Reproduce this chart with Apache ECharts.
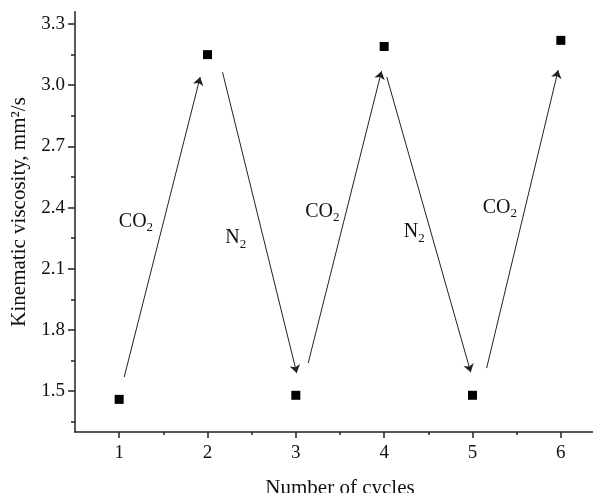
<!DOCTYPE html>
<html>
<head>
<meta charset="utf-8">
<script src="https://cdn.jsdelivr.net/npm/echarts@6/dist/echarts.min.js"></script>
<style>html,body{margin:0;padding:0;background:#fff;overflow:hidden}#c{width:605px;height:493px}</style>
</head>
<body>
<div id="c"></div>
<script>
// ---- data ----
const cycles = [1, 2, 3, 4, 5, 6];
const viscosity = [1.46, 3.15, 1.48, 3.19, 1.48, 3.22];
const yTicks = [1.5, 1.8, 2.1, 2.4, 2.7, 3.0, 3.3];
const yMinorTicks = [1.35, 1.65, 1.95, 2.25, 2.55, 2.85, 3.15];
const xTicks = [1, 2, 3, 4, 5, 6];
const xMinorTicks = [1.5, 2.5, 3.5, 4.5, 5.5, 6.5];
// arrows: start and end points in data units
const arrowStarts = [[1.057, 1.569], [2.17, 3.064], [3.14, 1.638], [4.03, 3.04], [5.16, 1.613]];
const arrowEnds   = [[1.917, 3.04], [3.01, 1.589], [3.97, 3.069], [4.98, 1.593], [5.97, 3.074]];
// annotation labels
const gasLabels = ['CO', 'N', 'CO', 'N', 'CO'];
const gasLabelX = [1.19, 2.32, 3.30, 4.34, 5.31];
const gasLabelY = [2.33, 2.25, 2.38, 2.28, 2.40];

const FONT = '"Liberation Serif", "DejaVu Serif", serif';
const TXT = '#111';

const chart = echarts.init(document.getElementById('c'), null, {renderer: 'canvas'});

const axisLineStyle = {color: '#222', width: 1.5};

chart.setOption({
  animation: false,
  backgroundColor: '#fff',
  grid: {left: 75, top: 11.8, bottom: 61, right: 0, containLabel: false, outerBoundsMode: 'none'},
  xAxis: [{
    type: 'value', min: 0.5, max: 6.5,
    splitLine: {show: false},
    axisLine: {show: true, onZero: false, lineStyle: axisLineStyle},
    axisTick: {show: true, inside: false, length: 6, customValues: xTicks, lineStyle: {color: '#222', width: 1.5}},
    axisLabel: {customValues: xTicks, margin: 12, fontFamily: FONT, fontSize: 19, color: TXT},
    name: 'Number of cycles', nameLocation: 'middle', nameGap: 46,
    nameTextStyle: {fontFamily: FONT, fontSize: 21, color: TXT}
  }, {
    type: 'value', min: 0.5, max: 6.5, position: 'bottom',
    splitLine: {show: false},
    axisLine: {show: false, onZero: false},
    axisTick: {show: true, length: 3, customValues: xMinorTicks, lineStyle: {color: '#222', width: 1.5}},
    axisLabel: {show: false}
  }],
  yAxis: [{
    type: 'value', min: 1.3, max: 3.36,
    splitLine: {show: false},
    axisLine: {show: true, onZero: false, lineStyle: axisLineStyle},
    axisTick: {show: true, length: 7, customValues: yTicks, lineStyle: {color: '#222', width: 1.5}},
    axisLabel: {customValues: yTicks, margin: 10, fontFamily: FONT, fontSize: 19, color: TXT,
      formatter: v => v.toFixed(1)},
    name: 'Kinematic viscosity, mm²/s', nameLocation: 'middle', nameGap: 44,
    nameTextStyle: {fontFamily: FONT, fontSize: 21, color: TXT, padding: [0, 0, 0, 20]}
  }, {
    type: 'value', min: 1.3, max: 3.36, position: 'left',
    splitLine: {show: false},
    axisLine: {show: false, onZero: false},
    axisTick: {show: true, length: 4, customValues: yMinorTicks, lineStyle: {color: '#222', width: 1.5}},
    axisLabel: {show: false}
  }],
  series: [{
    type: 'lines',
    coordinateSystem: 'cartesian2d',
    xAxisIndex: 0, yAxisIndex: 0,
    symbol: ['none', 'arrow'],
    symbolSize: 8,
    lineStyle: {color: '#222', width: 1, opacity: 1},
    data: arrowStarts.map((s, i) => ({coords: [s, arrowEnds[i]]})),
    silent: true
  }, {
    type: 'scatter',
    xAxisIndex: 0, yAxisIndex: 0,
    symbol: 'rect', symbolSize: 9,
    itemStyle: {color: '#000', opacity: 1},
    data: cycles.map((c, i) => [c, viscosity[i]])
  }, {
    type: 'scatter',
    xAxisIndex: 0, yAxisIndex: 0,
    symbolSize: 0,
    silent: true,
    itemStyle: {color: '#111', opacity: 1},
    label: {
      show: true, position: 'inside', color: TXT, textBorderWidth: 0, opacity: 1,
      formatter: p => '{a|' + p.data[2] + '}{b|2}',
      rich: {
        a: {fontFamily: FONT, fontSize: 20, color: TXT, textBorderWidth: 0, verticalAlign: 'middle'},
        b: {fontFamily: FONT, fontSize: 13, color: TXT, textBorderWidth: 0, padding: [12, 0, 0, 0], verticalAlign: 'bottom'}
      }
    },
    data: gasLabels.map((t, i) => [gasLabelX[i], gasLabelY[i], t])
  }]
});
</script>
</body>
</html>
